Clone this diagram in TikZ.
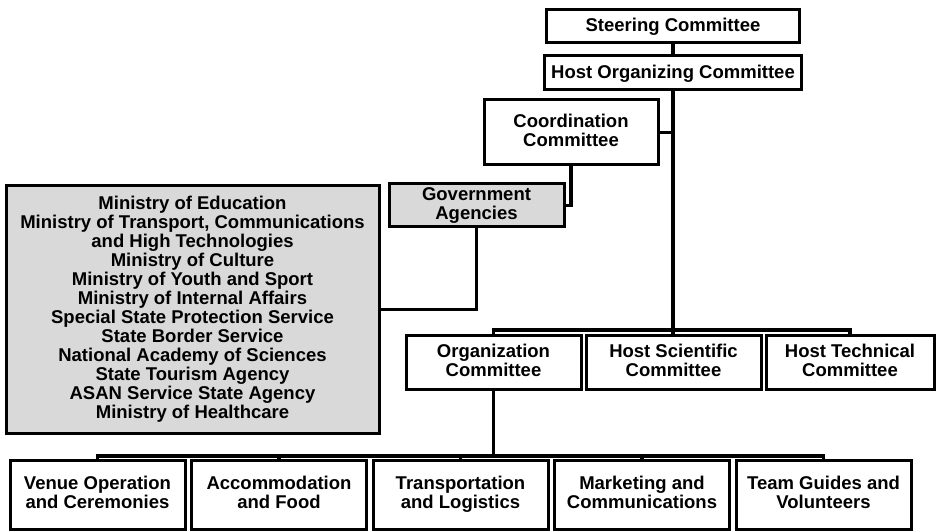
\documentclass[tikz,border=0pt]{standalone}
\usepackage{fontspec}
\setmainfont{Liberation Sans}
\usetikzlibrary{positioning}
\definecolor{agencygray}{gray}{0.85}
\begin{document}
\begin{tikzpicture}[
    x=1pt, y=-1pt,
    every node/.style={draw, line width=3pt, align=center, inner sep=0pt,
      outer sep=0pt, font=\bfseries\fontsize{18.5}{19}\selectfont,
      execute at begin node=\rule{0pt}{15pt},
      execute at end node=\rule[-4pt]{0pt}{4pt}},
    unit/.style={minimum width=175pt, minimum height=54pt},
    leaf/.style={minimum width=175pt, minimum height=69pt},
    agency/.style={fill=agencygray},
    link/.style={line width=3.4pt}
  ]
  \useasboundingbox (0,0) rectangle (938,532);
  \node[minimum width=253pt, minimum height=33pt] (SC) at (673,26.5) {Steering Committee};
  \node[minimum width=257pt, minimum height=34pt] (HOC) at (673,73) {Host Organizing Committee};
  \node[minimum width=174pt, minimum height=65pt] (CC) at (571,132.5) {Coordination\\Committee};
  \node[agency, minimum width=175pt, minimum height=43pt] (GA) at (476.5,205.5) {Government\\Agencies};
  \node[agency, minimum width=373pt, minimum height=247pt] (MIN) at (192.5,309.5) {Ministry of Education\\
    Ministry of Transport, Communications\\and High Technologies\\Ministry of Culture\\
    Ministry of Youth and Sport\\Ministry of Internal Affairs\\
    Special State Protection Service\\State Border Service\\
    National Academy of Sciences\\State Tourism Agency\\
    ASAN Service State Agency\\Ministry of Healthcare};
  \node[unit] (OC) at (493.5,362) {Organization\\Committee};
  \node[unit, right=5pt of OC] (HSC) {Host Scientific\\Committee};
  \node[unit, minimum width=168pt, right=5pt of HSC] (HTC) {Host Technical\\Committee};
  \node[leaf] (VO) at (97.5,494.5) {Venue Operation\\and Ceremonies};
  \node[leaf, right=6.5pt of VO] (AF) {Accommodation\\and Food};
  \node[leaf, right=6.5pt of AF] (TL) {Transportation\\and Logistics};
  \node[leaf, right=6.5pt of TL] (MC) {Marketing and\\Communications};
  \node[leaf, right=6.5pt of MC] (TG) {Team Guides and\\Volunteers};
  % upper chain
  \draw[link] (SC) -- (HOC);
  \draw[link] (HOC.south) -- (HOC.south |- HSC.north);
  \draw[link] (CC.east) -- (CC.east -| HOC.south);
  \draw[link] (CC.south) |- (GA.east);
  \draw[link] (GA.south) |- (MIN.east);
  % committees
  \draw[link] (OC.north) -- ++(0,-5) -| (HTC.north);
  % working groups
  \draw[link] (VO.north) -- ++(0,-4) -| (TG.north);
  \foreach \n in {AF,TL,MC}
    \draw[link] (\n.north) -- ++(0,-4);
  \draw[link] (OC.south) -- (OC.south |- 0,456);
\end{tikzpicture}
\end{document}
